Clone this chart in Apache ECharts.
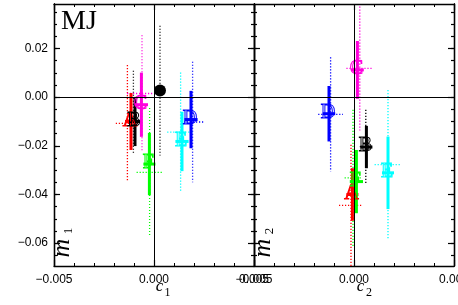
<!DOCTYPE html>
<html><head><meta charset="utf-8">
<script src="https://cdn.jsdelivr.net/npm/echarts@6/dist/echarts.min.js"></script>
<style>html,body{margin:0;padding:0;background:#fff}#c{width:458px;height:305px}</style>
</head><body><div id="c"></div>
<script>
// ---------- data ----------
const symbols = ['A', 'B', 'C', 'D', 'E', 'F'];

// Left panel (c1, m1): solid-bar estimates
const c1 = [-0.00115, -0.00095, -0.00063, 0.00185, 0.0014, -0.00023];
const m1 = [-0.0100, -0.0100, -0.0031, -0.0092, -0.0182, -0.0275];
const c1Err = [0.0003, 0.0003, 0.00033, 0.00033, 0.00033, 0.0003];
const m1Err = [0.0117, 0.0101, 0.0132, 0.0118, 0.0122, 0.0128];
// Left panel: dotted-bar estimates
const c1Alt = [-0.00133, -0.00103, -0.0006, 0.00193, 0.00133, -0.00022];
const m1Alt = [-0.0108, -0.0064, 0.0015, -0.0102, -0.0144, -0.0309];
const c1AltErr = [0.00058, 0, 0.00075, 0.00058, 0.00067, 0.00065];
const m1AltErr = [0.0240, 0.0173, 0.0240, 0.0248, 0.0245, 0.0265];
// Left panel: reference point (filled circle)
const refC1 = [0.0003];
const refM1 = [0.0027];
const refM1Err = [0.0267];

// Right panel (c2, m2): solid-bar estimates
const c2 = [-0.00008, 0.00062, 0.00017, -0.00125, 0.0017, 0.00012];
const m2 = [-0.0400, -0.0205, 0.0112, -0.0068, -0.0311, -0.0347];
const c2Err = [0.0003, 0.0003, 0.00032, 0.00031, 0.0003, 0.00033];
const m2Err = [0.0108, 0.0087, 0.0119, 0.0114, 0.0149, 0.0130];
// Right panel: dotted-bar estimates
const c2Alt = [-0.00015, 0.00059, 0.00029, -0.00117, 0.0017, -0.00005];
const m2Alt = [-0.0445, -0.0203, 0.0118, -0.0071, -0.0277, -0.0332];
const c2AltErr = [0.0006, 0.0003, 0.00067, 0.00062, 0.00067, 0.00042];
const m2AltErr = [0.0249, 0.0151, 0.0255, 0.0235, 0.0306, 0.0280];

// axes
const xRange = [-0.005, 0.005];
const yRange = [-0.0694, 0.0383];
const yTickLabels = [-0.06, -0.04, -0.02, 0, 0.02];
const yMinorTicks = [-0.065, -0.06, -0.055, -0.05, -0.045, -0.04, -0.035, -0.03, -0.025, -0.02, -0.015, -0.01, -0.005, 0, 0.005, 0.01, 0.015, 0.02, 0.025, 0.03, 0.035];
const xTickLabels = [-0.005, 0, 0.005];

// ---------- styles ----------
const symbolColors = ['#ff0000', '#000000', '#ff00dd', '#0000ff', '#00ffff', '#00ff00'];

function fmt(d) {
  return function (v) {
    const a = Math.abs(v) < 1e-12 ? 0 : v;
    return (a < 0 ? '\u2212' : '') + Math.abs(a).toFixed(d);
  };
}
const labelFont = { fontFamily: 'Liberation Sans', fontSize: 12, color: '#000' };

function xAx(grid, pos, showLabel) {
  return {
    type: 'value', gridIndex: grid, position: pos, min: xRange[0], max: xRange[1], interval: 0.005,
    axisLine: { show: true, onZero: false, lineStyle: { color: '#000', width: 1.3 } },
    axisTick: { show: true, inside: true, length: 6, lineStyle: { color: '#000', width: 1.2 } },
    minorTick: { show: true, splitNumber: 5, length: 3, lineStyle: { color: '#000', width: 1 } },
    axisLabel: Object.assign({ show: showLabel, margin: 8, showMinLabel: true, showMaxLabel: true, formatter: fmt(3) }, labelFont),
    splitLine: { show: false }, minorSplitLine: { show: false }
  };
}
function yAx(grid, pos, ticks, len, showLabel) {
  return {
    type: 'value', gridIndex: grid, position: pos, min: yRange[0], max: yRange[1],
    axisLine: { show: true, onZero: false, lineStyle: { color: '#000', width: 1.3 } },
    axisTick: { show: true, inside: true, length: len, customValues: ticks, lineStyle: { color: '#000', width: 1.2 } },
    axisLabel: Object.assign({ show: showLabel, margin: 6, customValues: yTickLabels, formatter: fmt(2) }, labelFont),
    splitLine: { show: false }
  };
}

function barRenderer(kind) {
  return function (params, api) {
    const c = api.value(0), m = api.value(1), ce = api.value(2), me = api.value(3), k = api.value(4);
    const col = k < 0 ? '#000' : symbolColors[k];
    const mk = () => kind === 'solid'
      ? { stroke: col, lineWidth: 3 }
      : { stroke: col, lineWidth: 1.3, lineDash: [1.2, 1.8] };
    const top = api.coord([c, m + me]), bot = api.coord([c, m - me]);
    const children = [{ type: 'line', shape: { x1: top[0], y1: top[1], x2: bot[0], y2: bot[1] }, style: mk() }];
    if (ce > 0) {
      const l = api.coord([c - ce, m]), r = api.coord([c + ce, m]);
      children.push({ type: 'line', shape: { x1: l[0], y1: l[1], x2: r[0], y2: r[1] }, style: mk() });
    }
    if (kind === 'solid' && k >= 0) {
      const p = api.coord([c, m]);
      children.push({ type: 'text', x: p[0] - 1, y: p[1] - 1, z2: 10,
        style: { text: symbols[k], fill: 'rgba(255,255,255,0)', stroke: col, lineWidth: 1,
          fontFamily: 'Liberation Serif', fontSize: 20, align: 'center', verticalAlign: 'middle' } });
    }
    return { type: 'group', children };
  };
}

function panelSeries(xi, yi, c, m, ce, me, ca, ma, cae, mae) {
  const solid = symbols.map((s, i) => [c[i], m[i], ce[i], me[i], i]);
  const dotted = symbols.map((s, i) => [ca[i], ma[i], cae[i], mae[i], i]);
  return [
    { type: 'scatter', xAxisIndex: xi, yAxisIndex: yi, symbolSize: 0, silent: true, z: 1,
      data: symbols.map((s, i) => [c[i], m[i]]),
      markLine: { silent: true, symbol: ['none', 'none'], label: { show: false },
        lineStyle: { color: '#000', width: 1, type: 'solid' }, emphasis: { disabled: true },
        data: [{ xAxis: 0 }, { yAxis: 0 }] } },
    { type: 'custom', xAxisIndex: xi, yAxisIndex: yi, z: 2, silent: true, renderItem: barRenderer('dotted'),
      encode: { x: 0, y: 1 }, data: dotted },
    { type: 'custom', xAxisIndex: xi, yAxisIndex: yi, z: 3, silent: true, renderItem: barRenderer('solid'),
      encode: { x: 0, y: 1 }, data: solid }
  ];
}

const series = []
  .concat(panelSeries(0, 0, c1, m1, c1Err, m1Err, c1Alt, m1Alt, c1AltErr, m1AltErr))
  .concat(panelSeries(2, 4, c2, m2, c2Err, m2Err, c2Alt, m2Alt, c2AltErr, m2AltErr));
series.push({ type: 'custom', xAxisIndex: 0, yAxisIndex: 0, z: 2, silent: true, renderItem: barRenderer('dotted'),
  encode: { x: 0, y: 1 }, data: refC1.map((v, i) => [v, refM1[i], 0, refM1Err[i], -1]) });
series.push({ type: 'scatter', xAxisIndex: 0, yAxisIndex: 0, z: 4, silent: true, symbol: 'circle', symbolSize: 12,
  itemStyle: { color: '#000', opacity: 1 }, data: refC1.map((v, i) => [v, refM1[i]]) });

const serifIt = { fontFamily: 'Liberation Serif', fontStyle: 'italic', fill: '#000', align: 'center', verticalAlign: 'middle' };
const chart = echarts.init(document.getElementById('c'), null, { renderer: 'canvas' });
chart.setOption({
  animation: false,
  backgroundColor: '#fff',
  grid: [
    { left: 54, top: 4, width: 200, height: 262, containLabel: false, outerBoundsMode: 'none' },
    { left: 254, top: 4, width: 200, height: 262, containLabel: false, outerBoundsMode: 'none' }
  ],
  xAxis: [xAx(0, 'bottom', true), xAx(0, 'top', false), xAx(1, 'bottom', true), xAx(1, 'top', false)],
  yAxis: [
    yAx(0, 'left', yTickLabels, 6, true), yAx(0, 'left', yMinorTicks, 3, false),
    yAx(0, 'right', yTickLabels, 6, false), yAx(0, 'right', yMinorTicks, 3, false),
    yAx(1, 'left', yTickLabels, 6, false), yAx(1, 'left', yMinorTicks, 3, false),
    yAx(1, 'right', yTickLabels, 6, false), yAx(1, 'right', yMinorTicks, 3, false)
  ],
  series: series,
  graphic: [
    { type: 'text', x: 61, y: 22, silent: true, style: { text: 'MJ', fontFamily: 'Liberation Serif', fontSize: 28, fill: '#000', align: 'left', verticalAlign: 'middle' } },
    { type: 'text', x: 159.5, y: 287, silent: true, style: Object.assign({ text: 'c', fontSize: 17 }, serifIt) },
    { type: 'text', x: 167.5, y: 293, silent: true, style: Object.assign({ text: '1', fontSize: 12 }, serifIt, { fontStyle: 'normal' }) },
    { type: 'text', x: 360.5, y: 287, silent: true, style: Object.assign({ text: 'c', fontSize: 17 }, serifIt) },
    { type: 'text', x: 369, y: 293, silent: true, style: Object.assign({ text: '2', fontSize: 12 }, serifIt, { fontStyle: 'normal' }) },
    { type: 'text', x: 62, y: 248, rotation: Math.PI / 2, silent: true, style: Object.assign({ text: 'm', fontSize: 26 }, serifIt) },
    { type: 'text', x: 69, y: 231, rotation: Math.PI / 2, silent: true, style: Object.assign({ text: '1', fontSize: 13 }, serifIt, { fontStyle: 'normal' }) },
    { type: 'text', x: 263, y: 248, rotation: Math.PI / 2, silent: true, style: Object.assign({ text: 'm', fontSize: 26 }, serifIt) },
    { type: 'text', x: 270, y: 231, rotation: Math.PI / 2, silent: true, style: Object.assign({ text: '2', fontSize: 13 }, serifIt, { fontStyle: 'normal' }) }
  ]
});
</script>
</body></html>
